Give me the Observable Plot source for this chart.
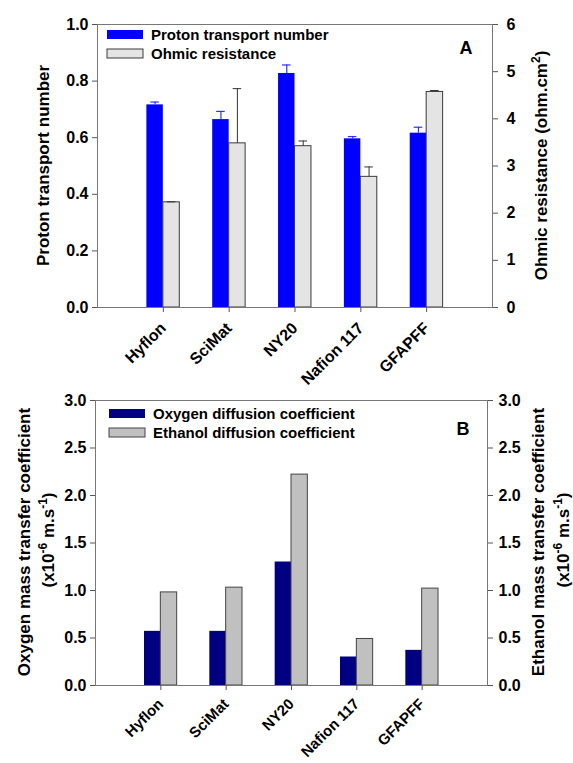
<!DOCTYPE html>
<html><head><meta charset="utf-8">
<script src="https://cdn.jsdelivr.net/npm/d3@7"></script>
<script src="https://cdn.jsdelivr.net/npm/@observablehq/plot@0.6"></script>
<style>
body{margin:0;background:#fff;}
#chart svg{display:block;overflow:visible;}
</style></head><body><div id="chart"></div>
<script>
// ---- data ----
const membranes = ["Hyflon", "SciMat", "NY20", "Nafion 117", "GFAPFF"];
const protonTransport = [0.716, 0.664, 0.827, 0.596, 0.616];
const protonTransportErr = [0.010, 0.029, 0.030, 0.008, 0.021];
const ohmicResistance = [2.23, 3.48, 3.42, 2.77, 4.57];
const ohmicResistanceErr = [0.01, 1.16, 0.11, 0.21, 0.03];
const oxygenCoeff = [0.57, 0.57, 1.30, 0.30, 0.37];
const ethanolCoeff = [0.98, 1.03, 2.22, 0.49, 1.02];
const leftTicksA = [0, 0.2, 0.4, 0.6, 0.8, 1.0];
const rightTicksA = [0, 1, 2, 3, 4, 5, 6];
const ticksB = [0, 0.5, 1.0, 1.5, 2.0, 2.5, 3.0];
const ohmMax = 6;

const FONT = "'Liberation Sans', Arial, Helvetica, sans-serif";
const W = 573;
const bw = 0.25;   // bar width in category units
const cap = 0.065; // error cap half width

const positions = membranes.map((m, i) => i + 1);
const rowsA = membranes.map((m, i) => ({
  pos: i + 1, pt: protonTransport[i], ptErr: protonTransportErr[i],
  ohm: ohmicResistance[i] / ohmMax, ohmErr: ohmicResistanceErr[i] / ohmMax
}));
const rowsB = membranes.map((m, i) => ({pos: i + 1, ox: oxygenCoeff[i], et: ethanolCoeff[i]}));

const baseStyle = {fontFamily: FONT, fontSize: "15px", fontWeight: "bold", background: "white", overflow: "visible", color: "black"};

function xAxis(fs, pad) {
  return Plot.axisX({ticks: positions, tickFormat: d => membranes[d - 1], tickRotate: -45, tickSize: 5, tickPadding: pad, label: null, stroke: "#555", fontSize: fs});
}

// ---- panel A ----
const plotA = Plot.plot({
  width: W, height: 380,
  marginLeft: 97, marginRight: W - 492, marginTop: 24, marginBottom: 73,
  style: baseStyle,
  x: {type: "linear", domain: [0, 6]},
  y: {domain: [0, 1]},
  marks: [
    Plot.rect(rowsA, {x1: d => d.pos - bw, x2: d => d.pos, y1: 0, y2: "pt", fill: "#0000ff"}),
    Plot.rect(rowsA, {x1: d => d.pos, x2: d => d.pos + bw, y1: 0, y2: "ohm", fill: "#e4e4e4", stroke: "#3a3a3a", strokeWidth: 1}),
    Plot.ruleX(rowsA, {x: d => d.pos - bw / 2, y1: "pt", y2: d => d.pt + d.ptErr, stroke: "#3030ff", strokeWidth: 1.2}),
    Plot.ruleY(rowsA, {y: d => d.pt + d.ptErr, x1: d => d.pos - bw / 2 - cap, x2: d => d.pos - bw / 2 + cap, stroke: "#3030ff", strokeWidth: 1.2}),
    Plot.ruleX(rowsA, {x: d => d.pos + bw / 2, y1: "ohm", y2: d => d.ohm + d.ohmErr, stroke: "#333"}),
    Plot.ruleY(rowsA, {y: d => d.ohm + d.ohmErr, x1: d => d.pos + bw / 2 - cap, x2: d => d.pos + bw / 2 + cap, stroke: "#333"}),
    Plot.frame({stroke: "#777"}),
    Plot.axisY({ticks: leftTicksA, tickFormat: d3.format(".1f"), tickSize: 5, tickPadding: 4, label: null, stroke: "#555", fontSize: 16}),
    Plot.axisY({anchor: "right", ticks: rightTicksA.map(v => v / ohmMax), tickFormat: d => Math.round(d * ohmMax), tickSize: 5, tickPadding: 9, label: null, stroke: "#555", fontSize: 16}),
    xAxis(16, 13)
  ]
});

// ---- panel B ----
const plotB = Plot.plot({
  width: W, height: 383,
  marginLeft: 95, marginRight: W - 487, marginTop: 20, marginBottom: 78,
  style: baseStyle,
  x: {type: "linear", domain: [0, 6]},
  y: {domain: [0, 3]},
  marks: [
    Plot.rect(rowsB, {x1: d => d.pos - bw, x2: d => d.pos, y1: 0, y2: "ox", fill: "#000080"}),
    Plot.rect(rowsB, {x1: d => d.pos, x2: d => d.pos + bw, y1: 0, y2: "et", fill: "#c0c0c0", stroke: "#444", strokeWidth: 1}),
    Plot.frame({stroke: "#777"}),
    Plot.axisY({ticks: ticksB, tickFormat: d3.format(".1f"), tickSize: 5, tickPadding: 4, label: null, stroke: "#555", fontSize: 16}),
    Plot.axisY({anchor: "right", ticks: ticksB, tickFormat: d3.format(".1f"), tickSize: 5, tickPadding: 6, label: null, stroke: "#555", fontSize: 16}),
    xAxis(15, 11)
  ]
});

// ---- annotations (legend, titles, panel letters) ----
function addLegend(svg, items, x, ys, textX) {
  const g = d3.select(svg).append("g").attr("font-family", FONT).attr("font-weight", "bold").attr("font-size", 15).attr("text-anchor", "start");
  items.forEach((it, i) => {
    g.append("rect").attr("x", x).attr("y", ys[i]).attr("width", 36).attr("height", 9)
      .attr("fill", it.fill).attr("stroke", it.stroke || "none");
    g.append("text").attr("x", textX).attr("y", ys[i] + 4.5).attr("dy", "0.35em").attr("text-anchor", "start").text(it.label);
  });
}
function vTitle(svg, x, y, parts) {
  const t = d3.select(svg).append("text")
    .attr("transform", `translate(${x},${y}) rotate(-90)`)
    .attr("text-anchor", "middle").attr("dy", "0.35em")
    .attr("font-family", FONT).attr("font-weight", "bold").attr("font-size", 17);
  parts.forEach(p => {
    const s = t.append("tspan").text(p.t);
    if (p.sup) s.attr("font-size", 12).attr("baseline-shift", "super");
  });
}
function letter(svg, x, y, s) {
  d3.select(svg).append("text").attr("x", x).attr("y", y).attr("dy", "0.35em").attr("text-anchor", "middle")
    .attr("font-family", FONT).attr("font-weight", "bold").attr("font-size", 18).text(s);
}

addLegend(plotA, [
  {label: "Proton transport number", fill: "#0000ff"},
  {label: "Ohmic resistance", fill: "#e4e4e4", stroke: "#3a3a3a"}
], 107, [30, 49], 151);
letter(plotA, 466, 48, "A");
vTitle(plotA, 43, 165.5, [{t: "Proton transport number"}]);
vTitle(plotA, 541, 165.5, [{t: "Ohmic resistance (ohm.cm"}, {t: "2", sup: true}, {t: ")"}]);

addLegend(plotB, [
  {label: "Oxygen diffusion coefficient", fill: "#000080"},
  {label: "Ethanol diffusion coefficient", fill: "#c0c0c0", stroke: "#444"}
], 109, [29, 48], 153);
letter(plotB, 463, 49, "B");
const unitParts = [{t: "(x10"}, {t: "-6", sup: true}, {t: " m.s"}, {t: "-1", sup: true}, {t: ")"}];
vTitle(plotB, 24, 162, [{t: "Oxygen mass transfer coefficient"}]);
vTitle(plotB, 48, 160, unitParts);
vTitle(plotB, 538, 162, [{t: "Ethanol mass transfer coefficient"}]);
vTitle(plotB, 563, 160, unitParts);

document.getElementById("chart").append(plotA, plotB);
</script></body></html>
